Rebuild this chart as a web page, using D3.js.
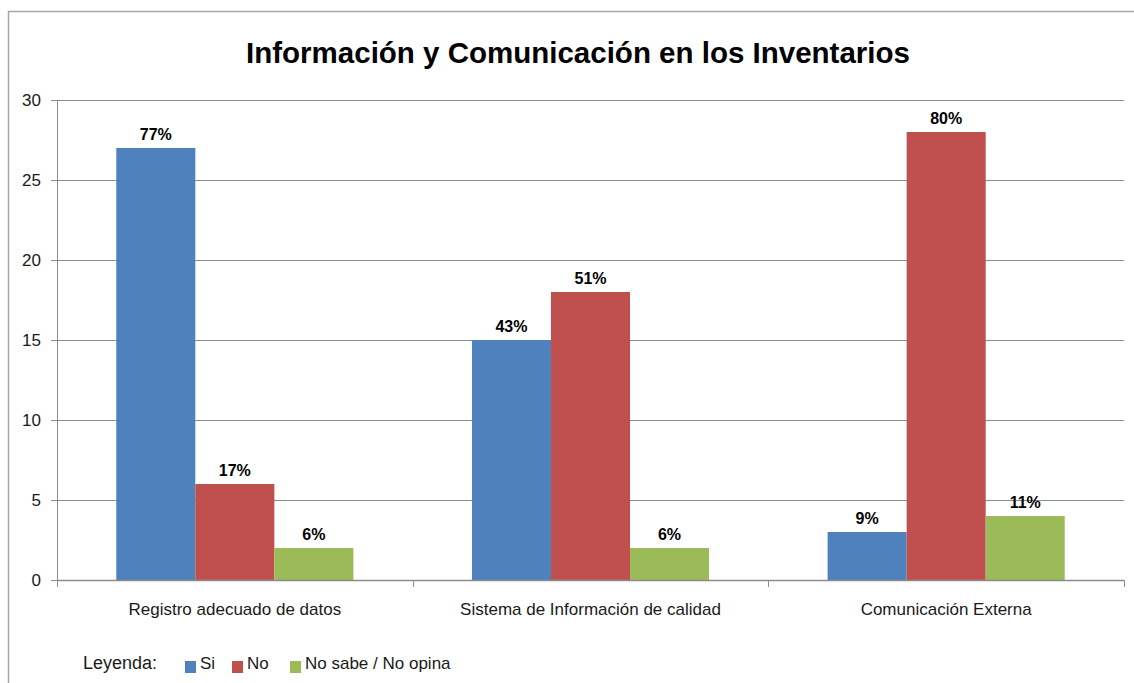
<!DOCTYPE html>
<html lang="es">
<head>
<meta charset="UTF-8">
<title>Información y Comunicación en los Inventarios</title>
<style>
  body { margin: 0; background: #fff; }
  svg text { font-family: "Liberation Sans", Arial, sans-serif; }
</style>
</head>
<body>
<script src="https://d3js.org/d3.v7.min.js"></script>
<div id="chart"></div>
<script>
// data
var categories = ["Registro adecuado de datos", "Sistema de Información de calidad", "Comunicación Externa"];
var seriesNames = ["Si", "No", "No sabe / No opina"];
var siValues = [27, 15, 3];
var noValues = [6, 18, 28];
var nsValues = [2, 2, 4];
var siLabels = ["77%", "43%", "9%"];
var noLabels = ["17%", "51%", "80%"];
var nsLabels = ["6%", "6%", "11%"];
var yTicks = [0, 5, 10, 15, 20, 25, 30];
var colors = ["#4F81BD", "#C0504D", "#9BBB59"];

var W = 1134, H = 683;
var margin = { top: 100, right: 10, bottom: 103, left: 57 },
    width = 1124 - margin.left,
    height = 580 - margin.top;

var svg = d3.select("#chart").append("svg")
    .attr("width", W).attr("height", H);

// outer frame of the chart (right/bottom edges run off the picture)
svg.append("path")
    .attr("d", "M8.5," + (H + 5) + "V11.5H" + (W + 5))
    .attr("fill", "none").attr("stroke", "#a6a6a6").attr("stroke-width", 1.5);

svg.append("text")
    .attr("x", 578).attr("y", 63)
    .attr("text-anchor", "middle")
    .style("font-size", "29.5px").style("font-weight", "bold")
    .style("fill", "#000")
    .text("Información y Comunicación en los Inventarios");

var g = svg.append("g").attr("transform", "translate(" + margin.left + "," + margin.top + ")");

var x = d3.scaleBand().domain(categories).range([0, width]);
var y = d3.scaleLinear().domain([0, 30]).range([height, 0]);
// bars take 3 of 4.5 bar widths inside each category (gap 150%)
var x1 = d3.scaleBand().domain(seriesNames)
    .range([x.bandwidth() * 0.75 / 4.5, x.bandwidth() * 3.75 / 4.5]);

// grid lines
g.append("g").selectAll("line").data(yTicks.filter(function (d) { return d > 0; }))
    .enter().append("line")
    .attr("x1", 0).attr("x2", width)
    .attr("y1", function (d) { return Math.round(y(d)) + 0.5; })
    .attr("y2", function (d) { return Math.round(y(d)) + 0.5; })
    .attr("stroke", "#8c8c8c").attr("stroke-width", 1);

var rows = categories.map(function (c, i) {
    return [
        { cat: c, s: seriesNames[0], v: siValues[i], lab: siLabels[i], col: colors[0] },
        { cat: c, s: seriesNames[1], v: noValues[i], lab: noLabels[i], col: colors[1] },
        { cat: c, s: seriesNames[2], v: nsValues[i], lab: nsLabels[i], col: colors[2] }
    ];
});
var flat = [].concat.apply([], rows);

g.selectAll("rect.bar").data(flat).enter().append("rect")
    .attr("class", "bar")
    .attr("x", function (d) { return x(d.cat) + x1(d.s); })
    .attr("y", function (d) { return y(d.v); })
    .attr("width", x1.bandwidth())
    .attr("height", function (d) { return height - y(d.v); })
    .attr("fill", function (d) { return d.col; });

g.selectAll("text.lab").data(flat).enter().append("text")
    .attr("class", "lab")
    .attr("x", function (d) { return x(d.cat) + x1(d.s) + x1.bandwidth() / 2; })
    .attr("y", function (d) { return y(d.v) - 8; })
    .attr("text-anchor", "middle")
    .style("font-size", "16px").style("font-weight", "bold")
    .text(function (d) { return d.lab; });

// y axis
var yAxis = g.append("g")
    .call(d3.axisLeft(y).tickValues(yTicks).tickSize(6).tickPadding(10));
yAxis.selectAll("path, line").attr("stroke", "#8c8c8c");
yAxis.selectAll("text").style("font-size", "17px").style("font-family", "Liberation Sans, Arial, sans-serif").attr("fill", "#1a1a1a");

// x axis with ticks on category boundaries
var xAxisG = g.append("g").attr("transform", "translate(0," + height + ")");
xAxisG.append("line").attr("x1", 0).attr("x2", width).attr("y1", 0.5).attr("y2", 0.5)
    .attr("stroke", "#8c8c8c").attr("stroke-width", 1.5);
xAxisG.selectAll("line.tk").data(categories.map(function (c) { return x(c); }).concat([width]))
    .enter().append("line").attr("class", "tk")
    .attr("x1", function (d) { return Math.round(d) + 0.5; })
    .attr("x2", function (d) { return Math.round(d) + 0.5; })
    .attr("y1", 0).attr("y2", 7)
    .attr("stroke", "#8c8c8c");
xAxisG.selectAll("text").data(categories).enter().append("text")
    .attr("x", function (d) { return x(d) + x.bandwidth() / 2; })
    .attr("y", 35)
    .attr("text-anchor", "middle")
    .style("font-size", "17px").attr("fill", "#1a1a1a")
    .text(function (d) { return d; });

// legend
var leg = svg.append("g").attr("transform", "translate(83,669)");
leg.append("text").attr("x", 0).attr("y", 0)
    .style("font-size", "18px").attr("fill", "#1a1a1a").text("Leyenda:");
var legX = [102, 149, 207];
var items = leg.selectAll("g.it").data(seriesNames).enter().append("g")
    .attr("transform", function (d, i) { return "translate(" + legX[i] + ",0)"; });
items.append("rect").attr("x", 0).attr("y", -8).attr("width", 11).attr("height", 12)
    .attr("fill", function (d, i) { return colors[i]; });
items.append("text").attr("x", 15).attr("y", 0)
    .style("font-size", "17px").attr("fill", "#1a1a1a")
    .text(function (d) { return d; });
</script>
</body>
</html>
